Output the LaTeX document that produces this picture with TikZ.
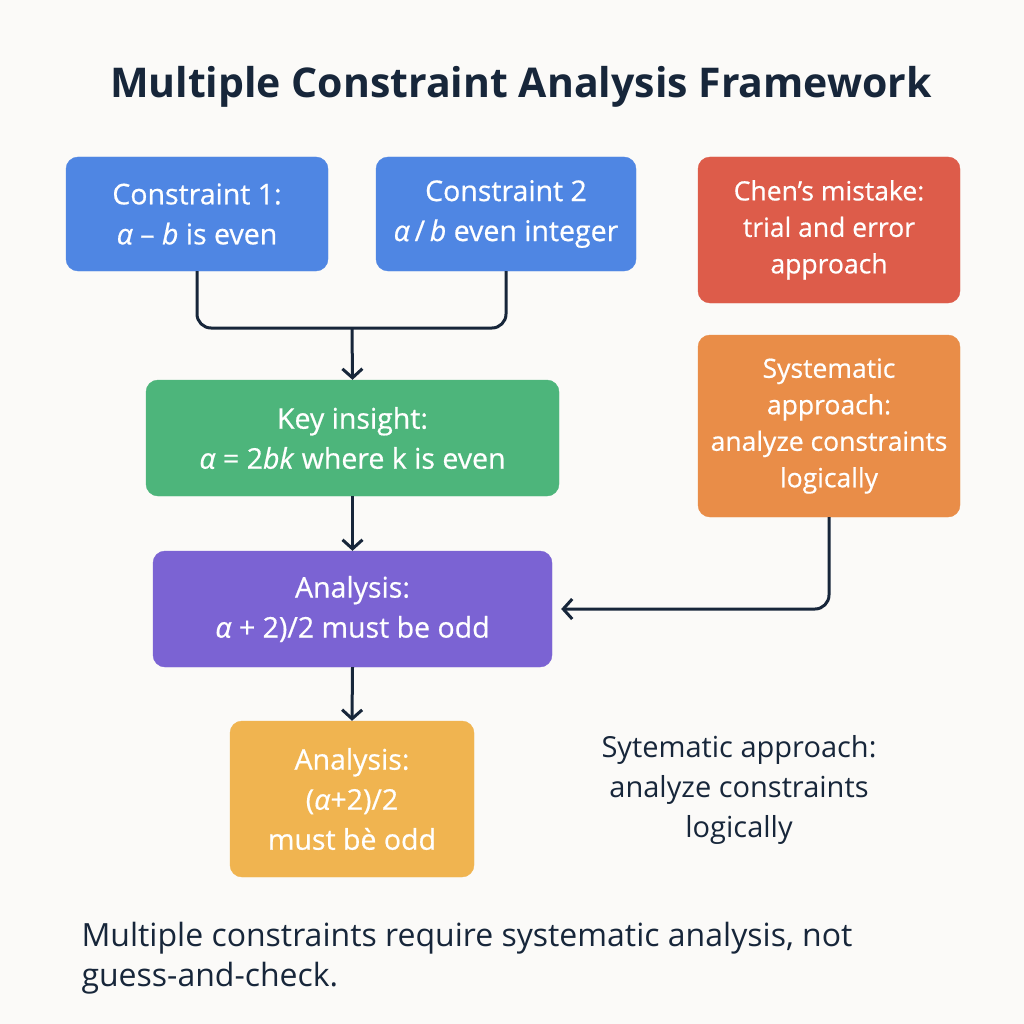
\documentclass[tikz,border=0pt]{standalone}
\usepackage{fontspec}
\setmainfont{Open Sans}
\usetikzlibrary{arrows.meta}
\definecolor{bgc}{HTML}{FBFAF8}
\definecolor{navy}{HTML}{17263A}
\definecolor{cblue}{HTML}{4F86E3}
\definecolor{cred}{HTML}{DD5C4A}
\definecolor{corange}{HTML}{E98D48}
\definecolor{cgreen}{HTML}{4DB57B}
\definecolor{cpurple}{HTML}{7B63D3}
\definecolor{cyellow}{HTML}{F0B450}
\tikzset{
  box/.style={draw=#1, fill=#1, rounded corners=12pt, text=white, align=center,
    font=\fontsize{28.5}{40}\selectfont\addfontfeature{FakeBold=0.6}, inner sep=0pt},
  smallbox/.style={box=#1, font=\fontsize{26.5}{36.5}\selectfont\addfontfeature{FakeBold=0.6}},
  conn/.style={draw=navy, line width=3pt, rounded corners=14pt},
  arr/.style={conn, -{Straight Barb[length=9pt,width=20pt,line width=3pt]}},
  plain/.style={text=navy, align=center, font=\fontsize{29}{40}\selectfont},
}
\newcommand{\al}{\textit{α}}
\begin{document}
\begin{tikzpicture}[x=1pt,y=-1pt]
\useasboundingbox[fill=bgc] (0,0) rectangle (1024,1024);
\node[text=navy, font=\fontsize{41}{48}\selectfont\bfseries] (title) at (521,87) {Multiple Constraint Analysis Framework};
\node[box=cblue, minimum width=262pt, minimum height=114pt] (c1) at (197,214) {Constraint 1:\\ \al{} – \textit{b} is even};
\node[box=cblue, minimum width=260pt, minimum height=114pt] (c2) at (506,214) {Constraint 2\\ \al{}\,/\,\textit{b} even integer};
\node[smallbox=cred, minimum width=262pt, minimum height=146pt] (chen) at (829,230) {Chen’s mistake:\\ trial and error\\ approach};
\node[smallbox=corange, minimum width=262pt, minimum height=182pt] (sys) at (829,426) {Systematic\\ approach:\\ analyze constraints\\ logically};
\node[box=cgreen, minimum width=413pt, minimum height=116pt] (key) at (352.5,438) {Key insight:\\ \al{} = 2\textit{bk} where k is even};
\node[box=cpurple, minimum width=399pt, minimum height=116pt] (ana) at (352.5,609) {Analysis:\\ \al{} + 2)/2 must be odd};
\node[box=cyellow, minimum width=244pt, minimum height=156pt] (ana2) at (352,799) {Analysis:\\ (\al{}+2)/2\\ must bè odd};
\node[plain] (note) at (739,790) {Sytematic approach:\\ analyze constraints\\ logically};
\node[text=navy, align=left, anchor=north west, font=\fontsize{32}{40}\selectfont] (summary) at (78,919) {Multiple constraints require systematic analysis, not\\ guess-and-check.};
\coordinate (m) at (352,328);
\draw[conn] (c1.south) |- (m) -| (c2.south);
\draw[arr] (m) -- (key.north);
\draw[arr] (key.south) -- (ana.north);
\draw[arr] (ana.south) -- (ana2.north);
\draw[arr, shorten >=9pt] (sys.south) |- (ana.east);
\end{tikzpicture}
\end{document}
